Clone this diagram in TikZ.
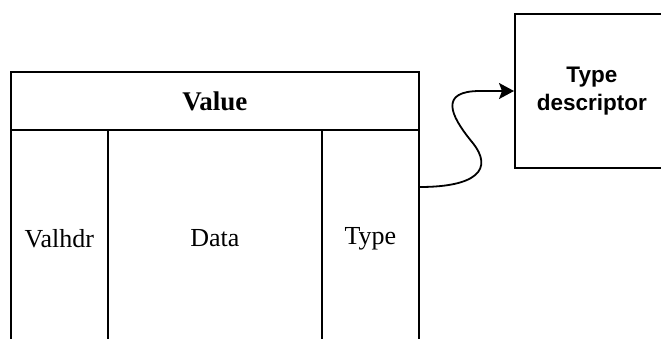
\documentclass[tikz,border=0pt]{standalone}
\usepackage{fontspec}
\setmainfont{Liberation Serif}
\newfontfamily\labelsans{Liberation Sans}
\usetikzlibrary{arrows.meta}
\begin{document}
\begin{tikzpicture}[x=1pt,y=-1pt,
  cell/.style={draw=black,line width=1.8pt,fill=white,inner sep=0pt,anchor=north west,
    font=\fontsize{26}{31}\selectfont},
  boldcell/.style={cell,font=\fontsize{27}{32}\selectfont\bfseries},
  sansbox/.style={cell,align=center,font=\labelsans\fontsize{22.5}{27.5}\selectfont\bfseries},
  link/.style={line width=1.8pt,-{Stealth[length=15pt,width=16pt,inset=3pt]}}]
  \clip (0,0) rectangle (661,338);
  \fill[white] (0,0) rectangle (661,338);
  % record layout of a value: header row and three fields
  \node[boldcell,minimum width=408pt,minimum height=58pt] (value) at (10,71) {Value};
  \node[cell,minimum width=97pt,minimum height=217pt] (valhdr) at (10,129) {Valhdr};
  \node[cell,minimum width=214pt,minimum height=217pt] (data) at (107,129) {Data};
  \node[cell,minimum width=97pt,minimum height=217pt] (type) at (321,129) {Type};
  % the descriptor the type field refers to
  \node[sansbox,minimum width=154pt,minimum height=154pt] (desc) at (514,13) {Type\\descriptor};
  % pointer from the type field to its descriptor
  \coordinate (from) at (type.east |- 0,187);
  \coordinate (bend) at (472,142);
  \coordinate (turn) at (480,91);
  \draw[link] (from) .. controls (475,187) and (495,170) .. (bend)
    .. controls (449,114) and (440,91) .. (turn) -- (desc.west |- turn);
\end{tikzpicture}
\end{document}
